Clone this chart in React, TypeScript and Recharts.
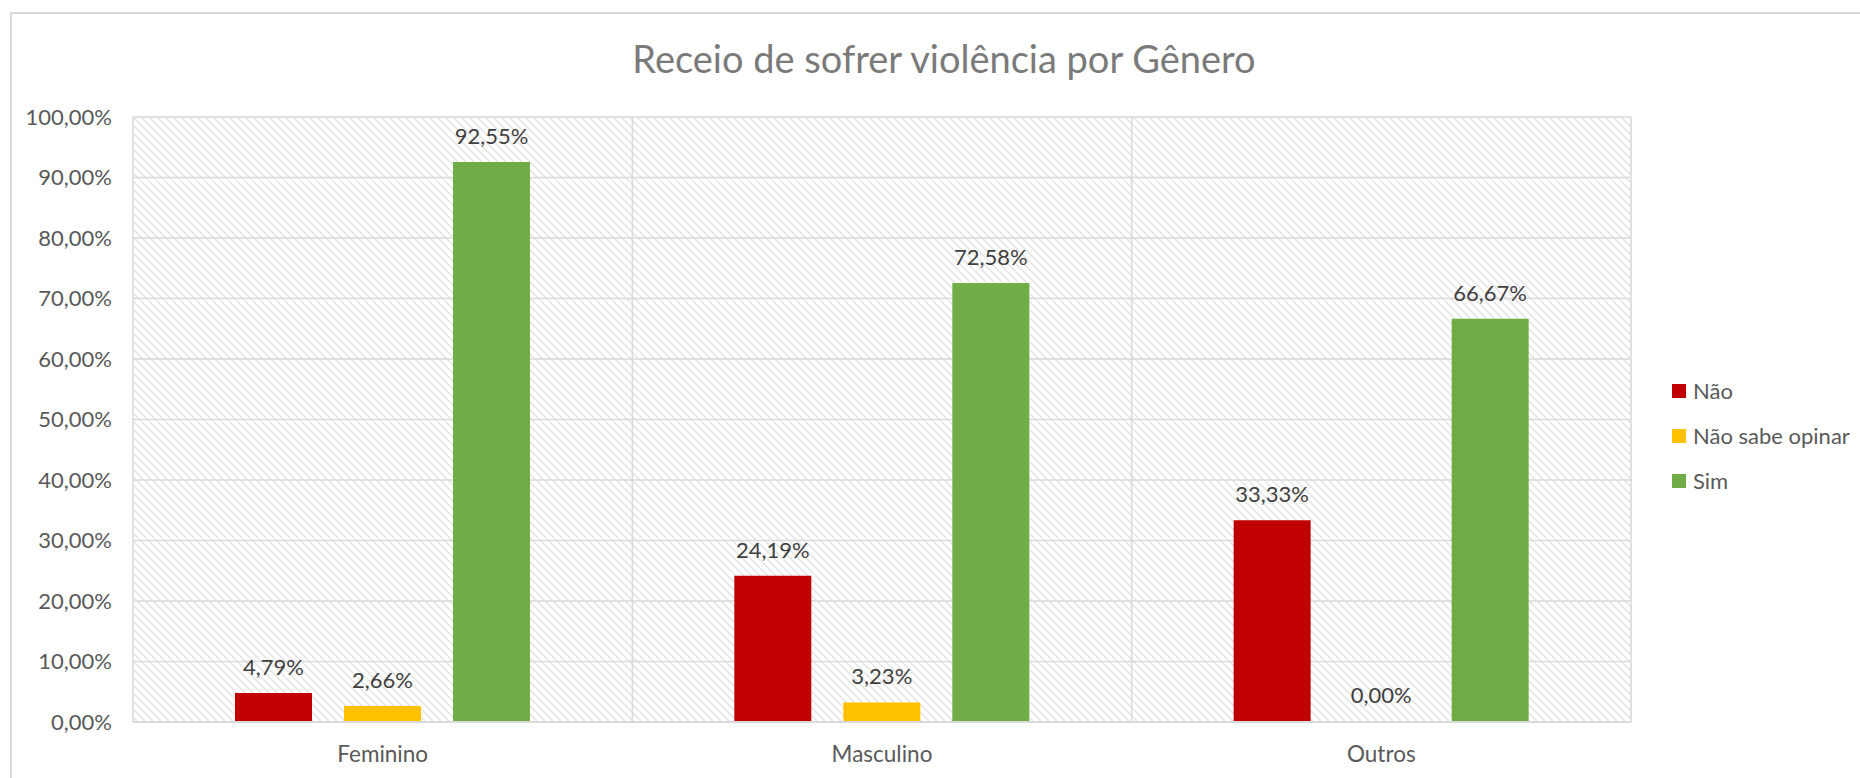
import { BarChart, Bar, XAxis, YAxis, CartesianGrid, LabelList, Cell } from 'recharts';

const categories = ['Feminino', 'Masculino', 'Outros'];
const naoValues = [4.79, 24.19, 33.33];
const naoSabeValues = [2.66, 3.23, 0];
const simValues = [92.55, 72.58, 66.67];
const yTicks = [0, 10, 20, 30, 40, 50, 60, 70, 80, 90, 100];

const seriesKeys = ['nao', 'naoSabe', 'sim'];
const seriesNames = ['Não', 'Não sabe opinar', 'Sim'];
const seriesColors = ['#C00000', '#FFC000', '#70AD47'];

const data = categories.map((genero, i) => ({
  genero,
  nao: naoValues[i],
  naoSabe: naoSabeValues[i],
  sim: simValues[i],
}));

const font = 'Lato, "Open Sans", sans-serif';
const pct = (v: number) => v.toFixed(2).replace('.', ',') + '%';

function LegendBox() {
  return (
    <div style={{ position: 'absolute', left: 1672, top: 368, fontFamily: font, fontSize: 22, color: '#595959' }}>
      {seriesNames.map((name, i) => (
        <div key={name} style={{ display: 'flex', alignItems: 'center', height: 45 }}>
          <span style={{ width: 14, height: 14, background: seriesColors[i], marginRight: 7, display: 'inline-block' }} />
          <span>{name}</span>
        </div>
      ))}
    </div>
  );
}

export default function App() {
  return (
    <div style={{ position: 'absolute', left: 0, top: 0, width: 1860, height: 778, background: '#fff', overflow: 'hidden' }}>
      <div style={{ position: 'absolute', left: 10, top: 12, width: 1900, height: 900, border: '2px solid #d9d9d9', boxSizing: 'border-box' }} />
      <div
        style={{
          position: 'absolute', left: 0, width: 1888, top: 34, textAlign: 'center',
          fontFamily: font, fontSize: 38, color: '#7a7a7a', lineHeight: '48px',
        }}
      >
        Receio de sofrer violência por Gênero
      </div>
      <div style={{ position: 'absolute', left: 0, top: 0 }}>
        <BarChart width={1860} height={778} data={data} margin={{ top: 117, right: 229, bottom: 0, left: 0 }} barSize={77} barGap={32}>
          <defs>
            <pattern id="hatch" patternUnits="userSpaceOnUse" width={8} height={8}>
              <path d="M-2,-2 L10,10 M-2,6 L2,10 M6,-2 L10,2" stroke="#e3e3e3" strokeWidth={1.4} />
            </pattern>
          </defs>
          <CartesianGrid
            stroke="#d9d9d9"
            strokeWidth={1.5}
            fill="url(#hatch)"
            fillOpacity={1}
            verticalCoordinatesGenerator={({ offset }: any) =>
              [0, 1, 2, 3].map((i) => offset.left + (offset.width * i) / 3)
            }
          />
          <XAxis
            dataKey="genero"
            height={56}
            axisLine={{ stroke: '#d9d9d9', strokeWidth: 2 }}
            tickLine={false}
            tickSize={0}
            tickMargin={24}
            tick={{ fill: '#595959', fontSize: 22.5, fontFamily: font }}
          />
          <YAxis
            width={133}
            domain={[0, 100]}
            ticks={yTicks}
            interval={0}
            axisLine={false}
            tickLine={false}
            tickSize={0}
            tickMargin={21}
            tickFormatter={pct}
            tick={{ fill: '#595959', fontSize: 22, fontFamily: font }}
          />
          {seriesKeys.map((key, s) => (
            <Bar
              key={key}
              dataKey={key}
              name={seriesNames[s]}
              fill={seriesColors[s]}
              minPointSize={(v: number) => (v === 0 ? 1 : 0)}
              isAnimationActive={false}
            >
              {data.map((d: any, i) => (
                <Cell key={i} fill={d[key] === 0 ? 'transparent' : seriesColors[s]} />
              ))}
              <LabelList dataKey={key} position="top" offset={18} formatter={pct} fill="#404040" fontSize={22} fontFamily={font} />
            </Bar>
          ))}
        </BarChart>
      </div>
      <LegendBox />
    </div>
  );
}
